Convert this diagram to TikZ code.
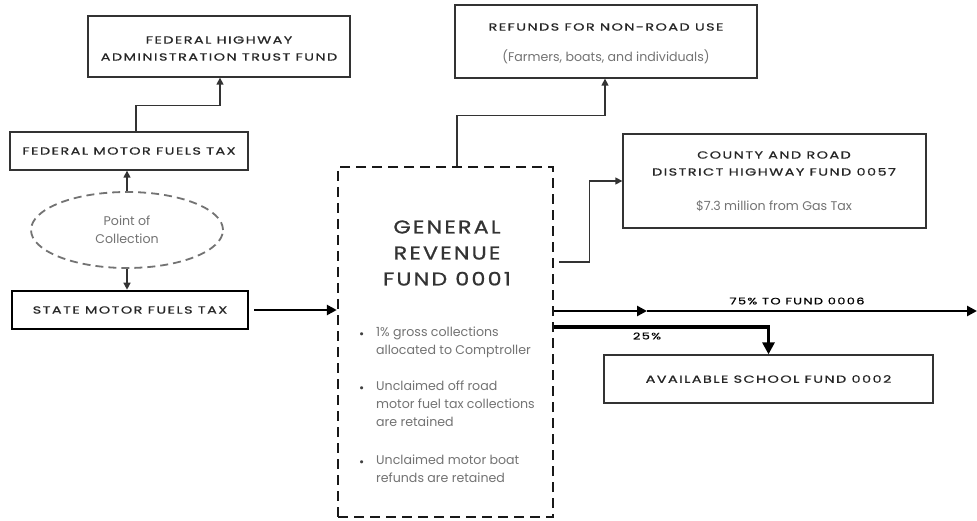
\documentclass[tikz,border=0pt]{standalone}
\usepackage{fontspec}
\setmainfont{Poppins}
\newfontfamily\capsf[FakeStretch=1.4,LetterSpace=14,FakeBold=0.8]{Poppins}
\newfontfamily\bigsf[FakeStretch=1.2,LetterSpace=12,FakeBold=1.0]{Poppins}
\usetikzlibrary{arrows.meta,shapes.geometric}
\begin{document}
\begin{tikzpicture}[x=1pt,y=-1pt,
  box/.style={draw=black!80,line width=1.3pt,fill=white,inner sep=0pt,rectangle},
  captxt/.style={font=\capsf\fontsize{10.3}{17}\selectfont,text=black!85,align=center,inner sep=0pt},
  graytxt/.style={font=\fontsize{12.6}{18}\selectfont,text=black!55,align=center,inner sep=0pt},
  bigtxt/.style={font=\bigsf\fontsize{18.5}{26}\selectfont,text=black!80,align=center,inner sep=0pt},
  thinarrow/.style={draw=black!80,line width=1.3pt,-{Triangle[length=7pt,width=7pt]}},
  thickarrow/.style={draw=black,line width=2.6pt,-{Triangle[length=10pt,width=10pt]}},
  heavyarrow/.style={draw=black,line width=3.6pt,-{Triangle[length=12pt,width=12pt]}}
]
\useasboundingbox[fill=white] (0,0) rectangle (977,521);

% boxes
\node[box,minimum width=262pt,minimum height=61pt] (fhwa) at (219,46.5) {};
\node[captxt] (fhwat) at (219,48.5) {FEDERAL HIGHWAY\\ADMINISTRATION TRUST FUND};

\node[box,minimum width=238pt,minimum height=38pt,captxt] (fmft) at (129,151) {FEDERAL MOTOR FUELS TAX};

\node[ellipse,draw=black!55,line width=1.8pt,dash pattern=on 8pt off 5pt,minimum width=192pt,minimum height=76pt,inner sep=0pt,graytxt] (poc) at (127,230) {Point of\\Collection};

\node[box,draw=black,line width=2.6pt,minimum width=236pt,minimum height=38pt,captxt] (smft) at (130,310) {STATE MOTOR FUELS TAX};

\node[rectangle,draw=black!90,line width=2.4pt,dash pattern=on 10pt off 6pt,minimum width=215pt,minimum height=350pt,inner sep=0pt] (gr) at (445.5,342) {};
\node[bigtxt] (grt) at (447,253) {GENERAL\\REVENUE\\FUND 0001};

\node[graytxt,anchor=west,text=black!75] (bl1) at (359,336) {\textbullet};
\node[graytxt,anchor=north west,align=left] (b1) at (376,327) {1\% gross collections\\allocated to Comptroller};
\node[graytxt,anchor=west,text=black!75] (bl2) at (359,390) {\textbullet};
\node[graytxt,anchor=north west,align=left] (b2) at (376,381) {Unclaimed off road\\motor fuel tax collections\\are retained};
\node[graytxt,anchor=west,text=black!75] (bl3) at (359,464) {\textbullet};
\node[graytxt,anchor=north west,align=left] (b3) at (376,455) {Unclaimed motor boat\\refunds are retained};

\node[box,minimum width=302pt,minimum height=73pt] (refunds) at (606,41.5) {};
\node[captxt] (reft1) at (606,27) {REFUNDS FOR NON-ROAD USE};
\node[graytxt] (reft2) at (606,57) {(Farmers, boats, and individuals)};

\node[box,minimum width=303pt,minimum height=94pt] (county) at (774.5,181) {};
\node[captxt] (cot1) at (774,163.5) {COUNTY AND ROAD\\DISTRICT HIGHWAY FUND 0057};
\node[graytxt] (cot2) at (774,206) {\$7.3 million from Gas Tax};

\node[box,minimum width=329pt,minimum height=48pt,captxt] (school) at (768.5,379) {AVAILABLE SCHOOL FUND 0002};

% labels
\node[captxt,font=\capsf\fontsize{9.3}{10}\selectfont,text=black] (l75) at (797,301) {75\% TO FUND 0006};
\node[captxt,font=\capsf\fontsize{9.3}{10}\selectfont,text=black] (l25) at (647,336) {25\%};

\coordinate (m75) at (647,311);
\coordinate (e75) at (977,311);

% connectors
\draw[thinarrow] ([xshift=7pt]fmft.north) -- ++(0,-26) -| ([xshift=1pt]fhwa.south);
\draw[thinarrow] (poc.north) -- (poc.north |- fmft.south);
\draw[thinarrow] (poc.south) -- (poc.south |- smft.north);
\draw[thickarrow] ([xshift=5pt]smft.east) -- (smft.east -| gr.west);
\draw[thinarrow] ([xshift=11.5pt]gr.north) -- ++(0,-50) -| ([xshift=-1pt]refunds.south);
\draw[thinarrow] ([xshift=5pt,yshift=80pt]gr.east) -- ++(30,0) |- (county.west);
\draw[thickarrow] ([yshift=31pt]gr.east) -- (m75);
\draw[thickarrow] (m75) -- (e75);
\draw[heavyarrow] ([yshift=15pt]gr.east) -| (school.north);
\end{tikzpicture}
\end{document}
